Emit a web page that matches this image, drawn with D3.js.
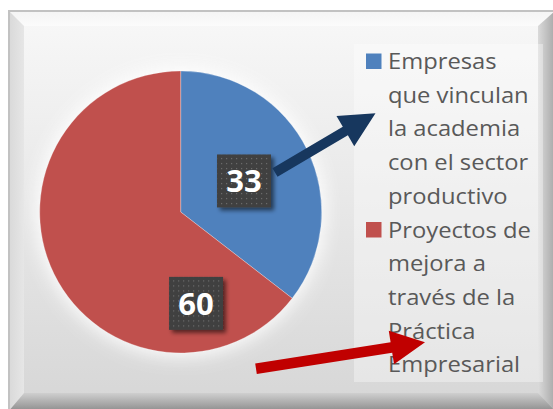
<!DOCTYPE html>
<html>
<head>
<meta charset="utf-8">
<script src="https://cdn.jsdelivr.net/npm/d3@7/dist/d3.min.js"></script>
<style>
  html, body { margin: 0; padding: 0; background: #ffffff; }
  svg { display: block; }
</style>
</head>
<body>
<div id="chart"></div>
<script>
// ---- data ----
const categories = [
  "Empresas que vinculan la academia con el sector productivo",
  "Proyectos de mejora a través de la Práctica Empresarial"
];
const values = [33, 60];
const legendLines = [
  ["Empresas", "que vinculan", "la academia", "con el sector", "productivo"],
  ["Proyectos de", "mejora a", "través de la", "Práctica", "Empresarial"]
];
const sliceColors = ["#4F81BD", "#C0504D"];

// ---- layout ----
const W = 553, H = 409;
const cx = 180.7, cy = 212, R = 141;

const svg = d3.select("#chart").append("svg").attr("width", W).attr("height", H);
const defs = svg.append("defs");

// background gradients
const bg = defs.append("linearGradient").attr("id", "bgGrad").attr("x1", 0).attr("y1", 0).attr("x2", 0).attr("y2", 1);
bg.append("stop").attr("offset", "0%").attr("stop-color", "#f8f8f8");
bg.append("stop").attr("offset", "100%").attr("stop-color", "#d6d6d6");

const gTop = defs.append("linearGradient").attr("id", "gTop").attr("x1", 0).attr("y1", 0).attr("x2", 0).attr("y2", 1);
gTop.append("stop").attr("offset", "0%").attr("stop-color", "#f4f4f4");
gTop.append("stop").attr("offset", "100%").attr("stop-color", "#fbfbfb");
const gLeft = defs.append("linearGradient").attr("id", "gLeft").attr("x1", 0).attr("y1", 0).attr("x2", 1).attr("y2", 0);
gLeft.append("stop").attr("offset", "0%").attr("stop-color", "#d8d8d8");
gLeft.append("stop").attr("offset", "100%").attr("stop-color", "#e6e6e6");
const gBot = defs.append("linearGradient").attr("id", "gBot").attr("x1", 0).attr("y1", 0).attr("x2", 0).attr("y2", 1);
gBot.append("stop").attr("offset", "0%").attr("stop-color", "#cfcfcf");
gBot.append("stop").attr("offset", "100%").attr("stop-color", "#8a8a8a");
const gRight = defs.append("linearGradient").attr("id", "gRight").attr("x1", 0).attr("y1", 0).attr("x2", 1).attr("y2", 0);
gRight.append("stop").attr("offset", "0%").attr("stop-color", "#dadada");
gRight.append("stop").attr("offset", "100%").attr("stop-color", "#a5a5a5");

// filters
const glow = defs.append("filter").attr("id", "glow").attr("x", "-30%").attr("y", "-30%").attr("width", "160%").attr("height", "160%");
glow.append("feGaussianBlur").attr("stdDeviation", 9);

const shadow = defs.append("filter").attr("id", "shadow").attr("x", "-30%").attr("y", "-30%").attr("width", "170%").attr("height", "170%");
shadow.append("feGaussianBlur").attr("in", "SourceAlpha").attr("stdDeviation", 2.2).attr("result", "b");
shadow.append("feOffset").attr("in", "b").attr("dx", 3).attr("dy", 3).attr("result", "o");
shadow.append("feComponentTransfer").attr("in", "o").attr("result", "s")
  .append("feFuncA").attr("type", "linear").attr("slope", 0.55);
const fm = shadow.append("feMerge");
fm.append("feMergeNode").attr("in", "s");
fm.append("feMergeNode").attr("in", "SourceGraphic");

const pat = defs.append("pattern").attr("id", "dots").attr("patternUnits", "userSpaceOnUse")
  .attr("width", 5).attr("height", 5);
pat.append("rect").attr("width", 5).attr("height", 5).attr("fill", "#404040");
pat.append("rect").attr("x", 2).attr("y", 2).attr("width", 1.2).attr("height", 1.2).attr("fill", "#6c6c6c");

// ---- frame ----
const fx0 = 8, fy0 = 10, fx1 = 556, fy1 = 412, bw = 16;
svg.append("rect").attr("x", fx0).attr("y", fy0).attr("width", fx1 - fx0).attr("height", fy1 - fy0)
  .attr("fill", "url(#bgGrad)");
const poly = (pts, fill) => svg.append("polygon").attr("points", pts.map(p => p.join(",")).join(" ")).attr("fill", fill);
poly([[fx0, fy0], [fx1, fy0], [fx1 - bw, fy0 + bw], [fx0 + bw, fy0 + bw]], "url(#gTop)");
poly([[fx0, fy0], [fx0 + bw, fy0 + bw], [fx0 + bw, fy1 - bw], [fx0, fy1]], "url(#gLeft)");
poly([[fx0, fy1], [fx0 + bw, fy1 - bw - 3], [fx1 - bw, fy1 - bw - 3], [fx1, fy1]], "url(#gBot)");
poly([[fx1, fy0], [fx1, fy1], [fx1 - bw - 2, fy1 - bw - 3], [fx1 - bw - 2, fy0 + bw]], "url(#gRight)");
svg.append("rect").attr("x", fx0 + 1).attr("y", fy0 + 1).attr("width", fx1 - fx0).attr("height", fy1 - fy0)
  .attr("fill", "none").attr("stroke", "#c2c2c2").attr("stroke-width", 2);

// ---- legend box ----
svg.append("rect").attr("x", 354).attr("y", 44).attr("width", 189).attr("height", 338)
  .attr("fill", "#ffffff").attr("fill-opacity", 0.35);

// ---- pie ----
const pie = d3.pie().sort(null).value(d => d);
const arcs = pie(values);
const arc = d3.arc().innerRadius(0).outerRadius(R);
const gPie = svg.append("g").attr("transform", `translate(${cx},${cy})`);
gPie.append("circle").attr("r", R + 4).attr("fill", "#ffffff").attr("opacity", 0.9).attr("filter", "url(#glow)");
gPie.selectAll("path.slice").data(arcs).join("path")
  .attr("class", "slice")
  .attr("d", arc)
  .attr("fill", (d, i) => sliceColors[i])
  .attr("stroke", "#ffffff").attr("stroke-opacity", 0.35).attr("stroke-width", 0.8);

// ---- data labels ----
// first label at slice centroid; second one was dragged by the author toward the bottom
const labelArc = d3.arc().innerRadius(0).outerRadius(R);
const labelPos = (d, i) => {
  if (i === 0) return labelArc.centroid(d);
  const a = d.startAngle + (d.endAngle - d.startAngle) * 0.184;
  const rr = R * 0.657;
  return [Math.sin(a) * rr, -Math.cos(a) * rr];
};
const lbl = gPie.selectAll("g.lbl").data(arcs).join("g").attr("class", "lbl")
  .attr("transform", (d, i) => `translate(${labelPos(d, i)})`);
lbl.append("rect").attr("x", -27).attr("y", -26.5).attr("width", 54).attr("height", 53)
  .attr("fill", "url(#dots)").attr("filter", "url(#shadow)");
lbl.append("text").attr("text-anchor", "middle").attr("dy", "0.36em")
  .attr("font-family", "'Open Sans', sans-serif").attr("font-weight", 700).attr("font-size", 31)
  .attr("fill", "#ffffff").text(d => d.data);

// ---- legend ----
const legX = 388, legY0 = 69, lineH = 33.7;
const gLeg = svg.append("g");
let lineIdx = 0;
legendLines.forEach((lines, i) => {
  const baseY = legY0 + lineIdx * lineH;
  gLeg.append("rect").attr("x", 366).attr("y", baseY - 15.5).attr("width", 15.5).attr("height", 15.5)
    .attr("fill", sliceColors[i]);
  lines.forEach(t => {
    const y = legY0 + lineIdx * lineH;
    gLeg.append("text").attr("transform", `translate(${legX},${y}) scale(1.08,1)`)
      .attr("font-family", "'Open Sans', sans-serif").attr("font-size", 22)
      .attr("fill", "#595959").text(t);
    lineIdx++;
  });
});

// ---- arrows ----
function arrowPath(x0, y0, x1, y1, shaft, headLen, headHalf) {
  const dx = x1 - x0, dy = y1 - y0, L = Math.hypot(dx, dy);
  const ux = dx / L, uy = dy / L, nx = -uy, ny = ux;
  const bx = x1 - ux * headLen, by = y1 - uy * headLen;
  const s = shaft / 2;
  const p = [
    [x0 + nx * s, y0 + ny * s], [bx + nx * s, by + ny * s], [bx + nx * headHalf, by + ny * headHalf],
    [x1, y1],
    [bx - nx * headHalf, by - ny * headHalf], [bx - nx * s, by - ny * s], [x0 - nx * s, y0 - ny * s]
  ];
  return "M" + p.map(q => q.join(",")).join("L") + "Z";
}
svg.append("path").attr("d", arrowPath(275, 172.5, 375.5, 113.3, 10, 35, 17.5)).attr("fill", "#17375E");
svg.append("path").attr("d", arrowPath(256, 368.7, 425, 342.3, 10.5, 34, 17)).attr("fill", "#C00000");
</script>
</body>
</html>
